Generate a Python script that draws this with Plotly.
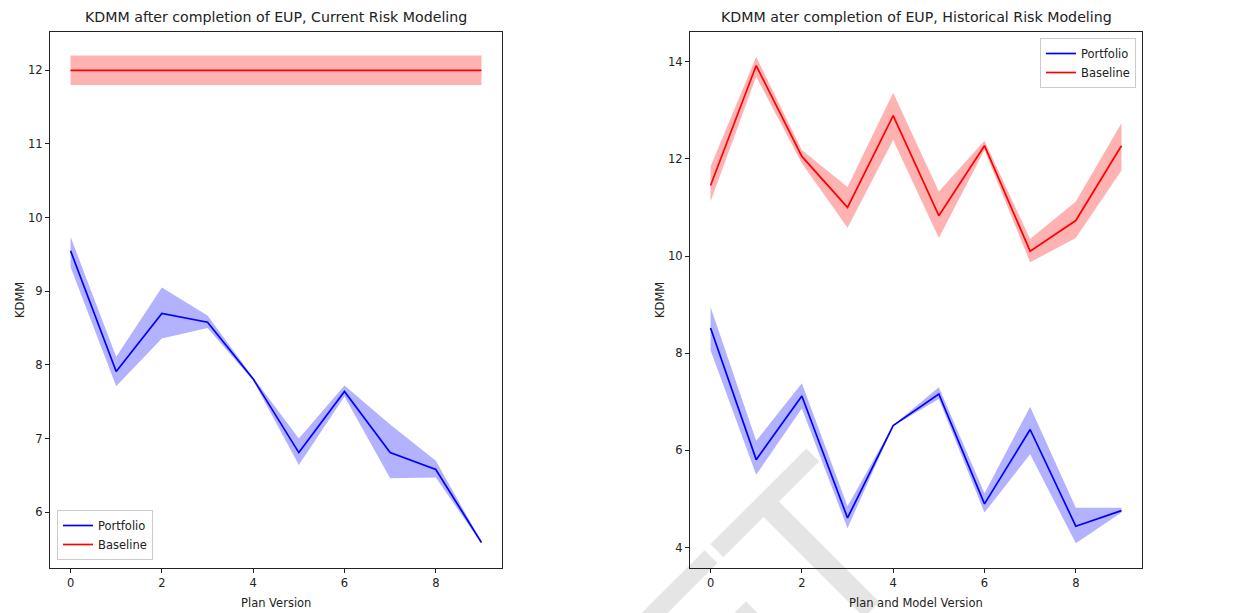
import plotly.graph_objects as go

# ---- data -----------------------------------------------------------------
versions = [0, 1, 2, 3, 4, 5, 6, 7, 8, 9]

# Current risk modeling
cur_portfolio = [9.55, 7.91, 8.70, 8.58, 7.81, 6.81, 7.64, 6.81, 6.58, 5.59]
cur_portfolio_hi = [9.74, 8.11, 9.05, 8.67, 7.83, 7.00, 7.72, 7.19, 6.70, 5.60]
cur_portfolio_lo = [9.33, 7.71, 8.36, 8.50, 7.79, 6.64, 7.57, 6.46, 6.47, 5.58]
cur_baseline = [12.0, 12.0, 12.0, 12.0, 12.0, 12.0, 12.0, 12.0, 12.0, 12.0]
cur_baseline_hi = [12.2, 12.2, 12.2, 12.2, 12.2, 12.2, 12.2, 12.2, 12.2, 12.2]
cur_baseline_lo = [11.8, 11.8, 11.8, 11.8, 11.8, 11.8, 11.8, 11.8, 11.8, 11.8]

# Historical risk modeling
hist_portfolio = [8.52, 5.81, 7.12, 4.61, 6.51, 7.16, 4.90, 6.43, 4.44, 4.76]
hist_portfolio_hi = [8.95, 6.20, 7.38, 4.85, 6.52, 7.30, 5.12, 6.90, 4.82, 4.82]
hist_portfolio_lo = [8.06, 5.50, 6.86, 4.40, 6.50, 7.06, 4.72, 5.92, 4.09, 4.72]
hist_baseline = [11.45, 13.92, 12.05, 11.00, 12.89, 10.83, 12.27, 10.10, 10.73, 12.27]
hist_baseline_hi = [11.84, 14.10, 12.18, 11.42, 13.36, 11.33, 12.37, 10.35, 11.12, 12.73]
hist_baseline_lo = [11.12, 13.69, 11.91, 10.58, 12.39, 10.37, 12.18, 9.87, 10.37, 11.76]

titles = ["KDMM after completion of EUP, Current Risk Modeling",
          "KDMM ater completion of EUP, Historical Risk Modeling"]
x_titles = ["Plan Version", "Plan and Model Version"]
y_title = "KDMM"

# ---- styling --------------------------------------------------------------
W, H = 1239, 613
FONT = "DejaVu Sans"
BLUE, RED = "#0000ff", "#ff0000"
BLUE_FILL, RED_FILL = "rgba(0,0,255,0.3)", "rgba(255,0,0,0.3)"

# plot-area boxes in pixels: (left, right, top, bottom)
boxes = [(50, 502, 32, 568), (690, 1142, 32, 568)]


def px_x(v):
    return v / W


def px_y(v):
    return 1 - v / H


fig = go.Figure()


def add_series(xref, yref, legend, name, y, lo, hi, color, fill):
    fig.add_trace(go.Scatter(x=versions, y=hi, mode="lines", line=dict(width=0),
                             hoverinfo="skip", showlegend=False,
                             xaxis=xref, yaxis=yref))
    fig.add_trace(go.Scatter(x=versions, y=lo, mode="lines", line=dict(width=0),
                             fill="tonexty", fillcolor=fill, hoverinfo="skip",
                             showlegend=False, xaxis=xref, yaxis=yref))
    fig.add_trace(go.Scatter(x=versions, y=y, mode="lines", name=name,
                             line=dict(color=color, width=1.7),
                             xaxis=xref, yaxis=yref, legend=legend))


add_series("x", "y", "legend", "Portfolio", cur_portfolio,
           cur_portfolio_lo, cur_portfolio_hi, BLUE, BLUE_FILL)
add_series("x", "y", "legend", "Baseline", cur_baseline,
           cur_baseline_lo, cur_baseline_hi, RED, RED_FILL)
add_series("x2", "y2", "legend2", "Portfolio", hist_portfolio,
           hist_portfolio_lo, hist_portfolio_hi, BLUE, BLUE_FILL)
add_series("x2", "y2", "legend2", "Baseline", hist_baseline,
           hist_baseline_lo, hist_baseline_hi, RED, RED_FILL)

axis_common = dict(showgrid=False, zeroline=False, showline=True, mirror=True,
                   linecolor="#222", linewidth=1, ticks="outside", ticklen=4,
                   tickwidth=1, tickcolor="#222",
                   tickfont=dict(family=FONT, size=11.5, color="#222"))

legend_common = dict(bgcolor="rgba(255,255,255,0.8)", bordercolor="#cccccc",
                     borderwidth=1, traceorder="normal",
                     font=dict(family=FONT, size=11.5, color="#222"))

(l1, r1, t1, b1), (l2, r2, t2, b2) = boxes
fig.update_layout(
    width=W, height=H,
    margin=dict(l=0, r=0, t=0, b=0),
    paper_bgcolor="white", plot_bgcolor="white",
    font=dict(family=FONT, color="#222"),
    xaxis=dict(domain=[px_x(l1), px_x(r1)], range=[-0.45, 9.45],
               tickvals=[0, 2, 4, 6, 8], anchor="y", **axis_common),
    yaxis=dict(domain=[px_y(b1), px_y(t1)], range=[5.243, 12.52],
               dtick=1, anchor="x", **axis_common),
    xaxis2=dict(domain=[px_x(l2), px_x(r2)], range=[-0.45, 9.45],
                tickvals=[0, 2, 4, 6, 8], anchor="y2", **axis_common),
    yaxis2=dict(domain=[px_y(b2), px_y(t2)], range=[3.58, 14.61],
                dtick=2, anchor="x2", **axis_common),
    legend=dict(x=px_x(57), y=px_y(560), xanchor="left", yanchor="bottom",
                **legend_common),
    legend2=dict(x=px_x(1136), y=px_y(38), xanchor="right", yanchor="top",
                 **legend_common),
    showlegend=True,
)

annotations = [
    # light "DRAFT" stamp running diagonally across the lower right
    dict(text="DRAFT", x=611 / W, y=1 - 763 / H, xref="paper", yref="paper",
         xanchor="center", yanchor="middle", showarrow=False, textangle=-45,
         font=dict(family=FONT, size=220, color="rgba(0,0,0,0.1)")),
]
for (l, r, t, b), title, xt in zip(boxes, titles, x_titles):
    cx = (l + r) / 2
    annotations.append(dict(text=title, x=px_x(cx), y=px_y(17), xref="paper",
                            yref="paper", xanchor="center", yanchor="middle",
                            showarrow=False,
                            font=dict(family=FONT, size=14.2, color="#222")))
    annotations.append(dict(text=xt, x=px_x(cx), y=px_y(603), xref="paper",
                            yref="paper", xanchor="center", yanchor="middle",
                            showarrow=False,
                            font=dict(family=FONT, size=11.5, color="#222")))
    annotations.append(dict(text=y_title, x=px_x(l - 30), y=px_y((t + b) / 2),
                            xref="paper", yref="paper", xanchor="center",
                            yanchor="middle", showarrow=False, textangle=-90,
                            font=dict(family=FONT, size=11.5, color="#222")))
fig.update_layout(annotations=annotations)

fig.write_html("out.html")
